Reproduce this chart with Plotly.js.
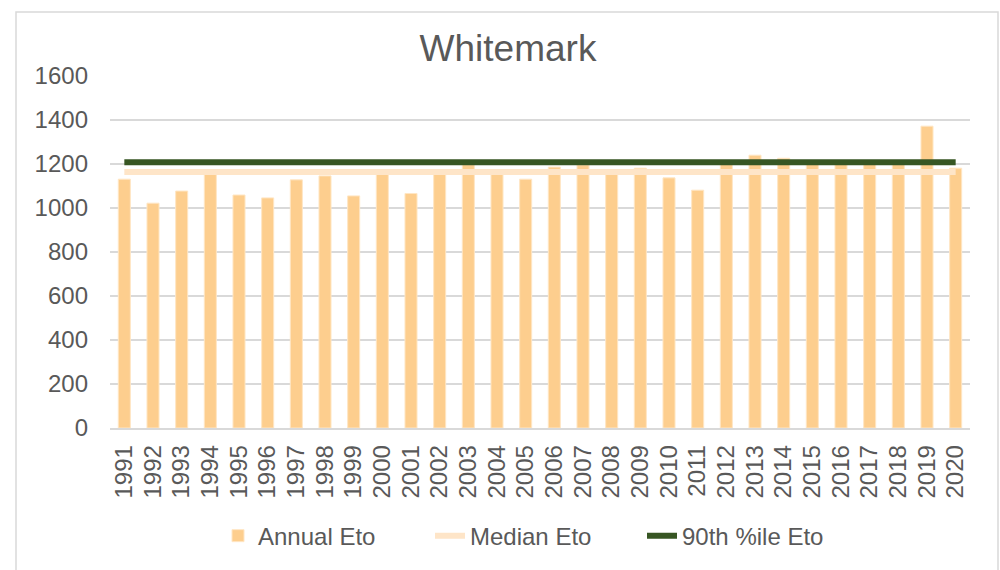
<!DOCTYPE html>
<html>
<head>
<meta charset="utf-8">
<script src="https://cdn.plot.ly/plotly-3.0.1.min.js"></script>
<style>
  html, body { margin: 0; padding: 0; background: #ffffff; }
  #chart { width: 1000px; height: 570px; }
</style>
</head>
<body>
<div id="chart"></div>
<script>
// ---- Data ----
const years = ["1991","1992","1993","1994","1995","1996","1997","1998","1999","2000",
               "2001","2002","2003","2004","2005","2006","2007","2008","2009","2010",
               "2011","2012","2013","2014","2015","2016","2017","2018","2019","2020"];
const annualEto = [1131, 1022, 1077, 1160, 1059, 1046, 1128, 1146, 1055, 1158,
                   1066, 1172, 1197, 1160, 1131, 1186, 1196, 1160, 1181, 1137,
                   1081, 1200, 1240, 1226, 1205, 1203, 1198, 1202, 1372, 1181];
const medianEtoValue = 1164;
const p90EtoValue = 1208;
const medianEto = years.map(() => medianEtoValue);
const p90Eto = years.map(() => p90EtoValue);
const yTicks = [0, 200, 400, 600, 800, 1000, 1200, 1400, 1600];

const FONT = '"Liberation Sans", Arial, sans-serif';
const TXT = '#595959';

const traces = [
  {
    type: 'bar', name: 'Annual Eto', x: years, y: annualEto,
    marker: { color: '#FDCE8E', line: { color: '#FFE6C4', width: 1 } }
  },
  {
    type: 'scatter', mode: 'lines', name: 'Median Eto', x: years, y: medianEto,
    line: { color: '#FEE5C8', width: 6 }
  },
  {
    type: 'scatter', mode: 'lines', name: '90th %ile Eto', x: years, y: p90Eto,
    line: { color: '#375623', width: 6 }
  }
];

const layout = {
  width: 1000, height: 570,
  margin: { l: 110, r: 30, t: 76, b: 142, pad: 0 },
  paper_bgcolor: '#ffffff', plot_bgcolor: '#ffffff',
  font: { family: FONT, color: TXT, size: 24 },
  title: {
    text: 'Whitemark', font: { family: FONT, size: 37, color: TXT },
    xref: 'container', x: 0.508, xanchor: 'center',
    yref: 'container', y: 1 - 48 / 570, yanchor: 'middle'
  },
  bargap: 0.58,
  showlegend: true,
  legend: {
    orientation: 'h', x: (218 - 110) / 860, xanchor: 'left', y: -0.307, yanchor: 'middle',
    font: { family: FONT, size: 24, color: TXT },
    entrywidth: 167, entrywidthmode: 'pixels', traceorder: 'normal'
  },
  xaxis: {
    type: 'category', tickmode: 'array', tickvals: years, ticktext: years,
    tickangle: -90, ticks: '', showgrid: false,
    showline: true, linecolor: '#D9D9D9', linewidth: 1.5,
    tickfont: { family: FONT, size: 24, color: TXT },
    ticklabelstandoff: 6, fixedrange: true
  },
  yaxis: {
    range: [0, 1600], tickvals: yTicks, ticktext: yTicks.map(String),
    showgrid: true, gridcolor: '#D9D9D9', gridwidth: 1.5,
    zeroline: false, showline: false, ticks: '',
    tickfont: { family: FONT, size: 24, color: TXT },
    ticklabelstandoff: 21, fixedrange: true
  },
  shapes: [
    {
      type: 'rect', xref: 'paper', yref: 'paper',
      x0: (16 - 110) / 860, x1: (998 - 110) / 860,
      y0: (428 - 580) / 352, y1: (428 - 12) / 352,
      line: { color: '#D9D9D9', width: 1.5 }, fillcolor: 'rgba(0,0,0,0)', layer: 'below'
    }
  ]
};

Plotly.newPlot('chart', traces, layout, { staticPlot: true, displayModeBar: false });
</script>
</body>
</html>
